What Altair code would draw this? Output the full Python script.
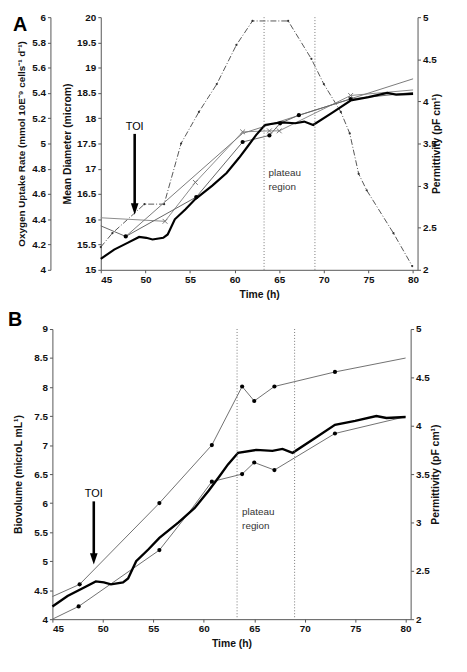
import altair as alt
import pandas as pd

# ---------------- values ----------------
time_ticks = [45, 50, 55, 60, 65, 70, 75, 80]
our_ticks = [4, 4.2, 4.4, 4.6, 4.8, 5, 5.2, 5.4, 5.6, 5.8, 6]
diam_ticks = [15, 15.5, 16, 16.5, 17, 17.5, 18, 18.5, 19, 19.5, 20]
perm_ticks = [2, 2.5, 3, 3.5, 4, 4.5, 5]
bio_ticks = [4, 4.5, 5, 5.5, 6, 6.5, 7, 7.5, 8, 8.5, 9]

# permittivity (thick black line, same in both panels)
perm_time = [45, 46.5, 48, 49.3, 50.1, 50.8, 52, 52.5, 53.3, 54.5, 55.6, 57.5, 59.1,
             60.5, 61.5, 62.4, 63.4, 65.2, 66.8, 67.8, 68.8, 71, 73, 75, 77.1, 78.1, 80]
perm_val = [2.13, 2.24, 2.32, 2.39, 2.38, 2.36, 2.38, 2.42, 2.60, 2.72, 2.84, 3.00, 3.15,
            3.33, 3.47, 3.60, 3.72, 3.75, 3.74, 3.76, 3.72, 3.87, 4.01, 4.05, 4.10, 4.08, 4.09]

# panel A: oxygen uptake rate (dash-dot)
our_time = [45, 46.3, 49.9, 52.1, 54.0, 56.0, 58.0, 60.2, 62.0, 66.0, 68.6, 70.0, 71.9,
            72.9, 73.9, 74.8, 77.8, 79.9]
our_val = [4.18, 4.29, 4.52, 4.52, 5.00, 5.25, 5.47, 5.78, 5.97, 5.97, 5.67, 5.47, 5.25,
           5.08, 4.76, 4.63, 4.29, 4.03]

# panel A: mean diameter, series with x markers
diam_x_time = [45, 52.2, 55.6, 60.9, 63.9, 65.0, 73.0, 80]
diam_x_val = [16.03, 15.96, 16.73, 17.73, 17.75, 17.75, 18.45, 18.56]
diam_x_mark = [0, 1, 1, 1, 1, 1, 1, 0]

# panel A: mean diameter, series with dot markers
diam_dot_time = [45, 47.8, 55.7, 60.9, 63.9, 65.1, 67.2, 73.0, 80]
diam_dot_val = [15.87, 15.66, 16.44, 17.53, 17.66, 17.90, 18.06, 18.38, 18.51]
diam_dot_mark = [0, 1, 1, 1, 1, 1, 1, 1, 0]

# panel A: plain trend line
diam_fit_time = [47.8, 60.9, 80]
diam_fit_val = [15.66, 17.70, 18.78]

# panel B: biovolume, upper and lower series
bio_hi_time = [45, 47.7, 55.6, 60.8, 63.8, 65.0, 67.0, 73.0, 80]
bio_hi_val = [4.39, 4.60, 6.00, 7.00, 8.01, 7.76, 8.01, 8.26, 8.50]
bio_hi_mark = [0, 1, 1, 1, 1, 1, 1, 1, 0]
bio_lo_time = [45, 47.6, 55.6, 58.5, 60.8, 63.8, 65.0, 67.0, 73.0, 80]
bio_lo_val = [4.00, 4.22, 5.19, 5.83, 6.37, 6.50, 6.70, 6.57, 7.20, 7.49]
bio_lo_mark = [0, 1, 1, 0, 1, 1, 1, 1, 1, 0]

plateau_edges = [63.3, 69.0]
plateau_text = ["plateau\nregion"]
plateau_text_time = 63.8
plateau_text_perm_a = 3.21
plateau_text_perm_b = 3.16

toi_text = ["TOI"]
toi_a_time, toi_a_text_val, toi_a_top, toi_a_tip = 48.8, 17.83, 17.69, 16.09
toi_b_time, toi_b_text_val, toi_b_top, toi_b_tip = 49.1, 6.15, 6.03, 4.94

FONT = "Liberation Sans"
XDOM = [45, 80.5]

# panel geometry (pixels)
A_W, A_H = 321, 256
B_SHIFT, B_W, B_H = 49, 314, 294   # panel B's plot starts 49px left of panel A's


def frame(t, v, m=None):
    d = pd.DataFrame({"t": t, "v": v})
    if m is not None:
        d["m"] = m
    return d


def X(rng):
    return alt.X("t:Q", scale=alt.Scale(domain=XDOM, nice=False, zero=False, range=rng),
                 axis=alt.Axis(values=time_ticks, title="Time (h)", titlePadding=5))


def Y(domain, axis=None):
    return alt.Y("v:Q", scale=alt.Scale(domain=domain, nice=False, zero=False), axis=axis)


XPATH = "M-1,-1L1,1M-1,1L1,-1"
HEAD = "M-1,-3L1,-3L0,0Z"


def arrow(t, top, tip, dom, xr):
    shaft = alt.Chart(pd.DataFrame({"t": [t], "v": [top], "v2": [tip + (dom[1] - dom[0]) * 0.02]})) \
        .mark_rule(color="black", strokeWidth=2.6).encode(x=X(xr), y=Y(dom), y2=alt.Y2("v2:Q"))
    head = alt.Chart(frame([t], [tip])).mark_point(
        shape=HEAD, filled=True, color="black", size=60, opacity=1).encode(x=X(xr), y=Y(dom))
    return [shaft, head]


def letter(txt, dx, dy):
    return alt.Chart(pd.DataFrame({"s": [txt]})).mark_text(
        fontSize=20, fontWeight="bold", align="left", baseline="middle", color="black"
    ).encode(text="s:N", x=alt.value(dx), y=alt.value(dy))


def plateau(perm_y, xr):
    rules = alt.Chart(pd.DataFrame({"t": plateau_edges})).mark_rule(
        color="#777", strokeWidth=1, strokeDash=[1, 2]).encode(x=X(xr))
    txt = alt.Chart(pd.DataFrame({"t": [plateau_text_time], "v": [perm_y], "s": plateau_text})).mark_text(
        align="left", baseline="top", fontSize=10, color="#333", lineBreak="\n", lineHeight=14
    ).encode(x=X(xr), y=Y([2, 5]), text="s:N")
    return [rules, txt]


def toi_label(t, val, dom, xr):
    return alt.Chart(pd.DataFrame({"t": [t], "v": [val], "s": toi_text})).mark_text(
        fontSize=11, color="black", baseline="middle").encode(x=X(xr), y=Y(dom), text="s:N")


# ---------------- panel A ----------------
xa = [0, A_W]
our_axis = alt.Axis(orient="left", offset=51, values=our_ticks, format=".1~f",
                    title="Oxygen Uptake Rate (mmol 10E\u207b\u2079 cells\u207b\u00b9 d\u207b\u00b9)",
                    titlePadding=5, titleFontSize=10)
diam_axis = alt.Axis(orient="left", values=diam_ticks, format=".1~f",
                     title="Mean Diameter (microm)", titlePadding=4)
perm_axis_a = alt.Axis(orient="right", values=perm_ticks, format=".1~f",
                       title="Permittivity (pF cm\u00b9)", titleAngle=270, titleBaseline="top",
                       titlePadding=-5)

A_layers = [
    alt.Chart(frame(our_time, our_val)).mark_line(
        color="#555", strokeWidth=1, strokeDash=[6, 2, 1, 2]).encode(x=X(xa), y=Y([4, 6], our_axis)),
    alt.Chart(frame(our_time, our_val)).mark_circle(color="#333", size=5, opacity=1).encode(
        x=X(xa), y=Y([4, 6])),
    alt.Chart(frame(diam_x_time, diam_x_val, diam_x_mark)).mark_line(
        color="#8a8a8a", strokeWidth=1).encode(x=X(xa), y=Y([15, 20], diam_axis)),
    alt.Chart(frame(diam_x_time, diam_x_val, diam_x_mark)).transform_filter("datum.m == 1").mark_point(
        shape=XPATH, filled=False, color="#777", size=24, strokeWidth=1, opacity=1).encode(
        x=X(xa), y=Y([15, 20])),
    alt.Chart(frame(diam_fit_time, diam_fit_val)).mark_line(color="#7a7a7a", strokeWidth=1).encode(
        x=X(xa), y=Y([15, 20])),
    alt.Chart(frame(diam_dot_time, diam_dot_val, diam_dot_mark)).mark_line(
        color="#666", strokeWidth=1).encode(x=X(xa), y=Y([15, 20])),
    alt.Chart(frame(diam_dot_time, diam_dot_val, diam_dot_mark)).transform_filter("datum.m == 1").mark_circle(
        color="black", size=18, opacity=1).encode(x=X(xa), y=Y([15, 20])),
    alt.Chart(frame(perm_time, perm_val)).mark_line(color="black", strokeWidth=2.2).encode(
        x=X(xa), y=Y([2, 5], perm_axis_a)),
    *plateau(plateau_text_perm_a, xa),
    toi_label(toi_a_time, toi_a_text_val, [15, 20], xa),
    *arrow(toi_a_time, toi_a_top, toi_a_tip, [15, 20], xa),
    letter("A", -89, 8),
]

panel_a = alt.layer(*A_layers).resolve_scale(y="independent").properties(width=A_W, height=A_H)

# ---------------- panel B ----------------
xb = [-B_SHIFT, B_W]
bio_axis = alt.Axis(orient="left", offset=B_SHIFT, values=bio_ticks, format=".1~f",
                    title="Biovolume (microL mL\u00b9)", titlePadding=10)
perm_axis_b = alt.Axis(orient="right", values=perm_ticks, format=".1~f",
                       title="Permittivity (pF cm\u00b9)", titleAngle=270, titleBaseline="top",
                       titlePadding=1)

B_layers = [
    alt.Chart(frame(bio_hi_time, bio_hi_val, bio_hi_mark)).mark_line(color="#707070", strokeWidth=1).encode(
        x=X(xb), y=Y([4, 9], bio_axis)),
    alt.Chart(frame(bio_hi_time, bio_hi_val, bio_hi_mark)).transform_filter("datum.m == 1").mark_circle(
        color="black", size=18, opacity=1).encode(x=X(xb), y=Y([4, 9])),
    alt.Chart(frame(bio_lo_time, bio_lo_val, bio_lo_mark)).mark_line(color="#707070", strokeWidth=1).encode(
        x=X(xb), y=Y([4, 9])),
    alt.Chart(frame(bio_lo_time, bio_lo_val, bio_lo_mark)).transform_filter("datum.m == 1").mark_circle(
        color="black", size=18, opacity=1).encode(x=X(xb), y=Y([4, 9])),
    alt.Chart(frame(perm_time, perm_val)).mark_line(color="black", strokeWidth=2.4).encode(
        x=X(xb), y=Y([2, 5], perm_axis_b)),
    *plateau(plateau_text_perm_b, xb),
    toi_label(toi_b_time, toi_b_text_val, [4, 9], xb),
    *arrow(toi_b_time, toi_b_top, toi_b_tip, [4, 9], xb),
    letter("B", -B_SHIFT - 45, -9),
]

panel_b = alt.layer(*B_layers).resolve_scale(y="independent").properties(width=B_W, height=B_H)

chart = alt.concat(panel_a, panel_b, columns=1, spacing=10, align="none").properties(
    padding={"left": 0, "top": 0, "right": 0, "bottom": 0}
).configure_axis(
    grid=False, domainColor="#555", tickColor="#555", tickSize=3, labelPadding=2,
    labelFont=FONT, labelFontSize=10, labelFontWeight="bold", labelColor="#111",
    titleFont=FONT, titleFontSize=10.5, titleFontWeight="bold", titleColor="#111",
).configure_view(stroke=None).configure_text(font=FONT)

chart.save("out.html", embed_options={"renderer": "svg", "actions": False})
